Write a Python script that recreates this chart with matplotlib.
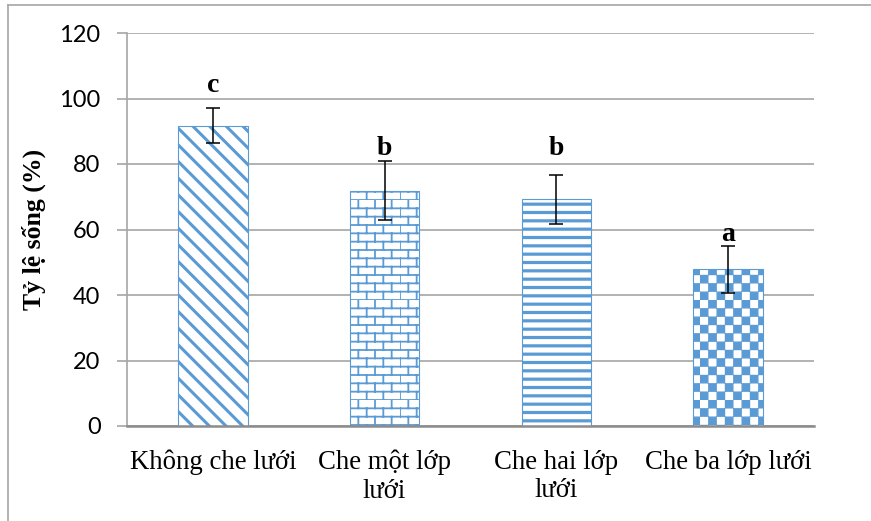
import warnings
import numpy as np
import matplotlib
matplotlib.use("Agg")
import matplotlib.pyplot as plt
import matplotlib.hatch as mhatch
from matplotlib.path import Path
from matplotlib.lines import Line2D

warnings.filterwarnings("ignore")

categories = ["Không che lưới", "Che một lớp\nlưới", "Che hai lớp\nlưới", "Che ba lớp lưới"]
survival = [91.7, 71.8, 69.2, 47.8]
errors = [5.3, 9.0, 7.4, 7.1]
letters = ["c", "b", "b", "a"]
letter_pos = [104.0, 84.8, 84.8, 58.5]
hatches = ["\\\\", "k", "--", "q"]

blue = "#5b9bd5"


class BrickHatch(mhatch.HatchPatternBase):
    """brick wall pattern, triggered by 'k'"""
    def __init__(self, hatch, density):
        self.rows = 12 if "k" in hatch else 0
        self.cols = 6
        # per row: one horizontal line + cols vertical segments
        self.num_vertices = self.rows * (2 + 2 * self.cols)

    def set_vertices_and_codes(self, vertices, codes):
        h = 1.0 / self.rows
        w = 1.0 / self.cols
        i = 0
        for r in range(self.rows):
            y0 = r * h
            vertices[i] = (0, y0); codes[i] = Path.MOVETO
            vertices[i + 1] = (1, y0); codes[i + 1] = Path.LINETO
            i += 2
            shift = 0 if r % 2 == 0 else w / 2
            for c in range(self.cols):
                x = c * w + shift
                vertices[i] = (x, y0); codes[i] = Path.MOVETO
                vertices[i + 1] = (x, y0 + h); codes[i + 1] = Path.LINETO
                i += 2


class CheckerHatch(mhatch.HatchPatternBase):
    """filled checkerboard squares, triggered by 'q'"""
    def __init__(self, hatch, density):
        self.n = 12 if "q" in hatch else 0
        self.cells = [(r, c) for r in range(self.n) for c in range(self.n) if (r + c) % 2 == 0]
        self.num_vertices = len(self.cells) * 5

    def set_vertices_and_codes(self, vertices, codes):
        s = 1.0 / self.n
        d = s * 0.06
        i = 0
        for r, c in self.cells:
            x0, y0 = c * s + d, r * s + d
            x1, y1 = (c + 1) * s - d, (r + 1) * s - d
            vertices[i:i + 5] = [(x0, y0), (x1, y0), (x1, y1), (x0, y1), (x0, y0)]
            codes[i:i + 5] = [Path.MOVETO, Path.LINETO, Path.LINETO, Path.LINETO, Path.CLOSEPOLY]
            i += 5


mhatch._hatch_types.append(BrickHatch)
mhatch._hatch_types.append(CheckerHatch)

hatch_widths = [2.2, 1.3, 2.3, 1.0]

fig = plt.figure(figsize=(8.71, 5.21), dpi=100)
ax = fig.add_axes([127 / 871, 1 - 426 / 521, (814 - 127) / 871, (426 - 33) / 521])

x = np.arange(len(categories))
for i in range(len(categories)):
    plt.rcParams["hatch.linewidth"] = hatch_widths[i]
    b = ax.bar(x[i], survival[i], width=0.405, color="white", edgecolor=blue,
               linewidth=0.8, hatch=hatches[i], zorder=2)
    for p in b:
        if hasattr(p, "set_hatch_linewidth"):
            p.set_hatch_linewidth(hatch_widths[i])

ax.errorbar(x, survival, yerr=errors, fmt="none", ecolor="black", elinewidth=1.1,
            capsize=4.7, capthick=1.1, zorder=3)

for i in range(len(categories)):
    ax.text(x[i], letter_pos[i], letters[i], ha="center", va="center",
            fontsize=20, fontweight="bold", family="Liberation Serif")

ax.set_xlim(-0.5, 3.5)
ax.set_ylim(0, 120)
ax.set_yticks(np.arange(0, 121, 20))
ax.yaxis.grid(True, color="#a6a6a6", linewidth=1.2, zorder=0)
ax.set_axisbelow(True)

for s in ["top", "right"]:
    ax.spines[s].set_visible(False)
ax.spines["left"].set_color("#a6a6a6")
ax.spines["left"].set_linewidth(1.2)
ax.spines["bottom"].set_color("#8c8c8c")
ax.spines["bottom"].set_linewidth(1.8)

ax.tick_params(axis="y", length=7, width=1.2, color="#a6a6a6", pad=12, labelsize=17)
ax.tick_params(axis="x", length=0, pad=17)
for lab in ax.get_yticklabels():
    lab.set_family("Lato")
ax.set_xticks(x)
ax.set_xticklabels(categories, family="Liberation Serif", fontsize=19.3, linespacing=1.18)

ax.set_ylabel("Tỷ lệ sống (%)", family="Liberation Serif", fontsize=18.5,
              fontweight="bold")
ax.yaxis.set_label_coords(-0.118, 0.5)

# outer frame (only top and left visible in reference)
fig.add_artist(Line2D([8 / 871, 1], [1 - 5 / 521, 1 - 5 / 521], color="#a6a6a6", linewidth=1.2,
                      transform=fig.transFigure))
fig.add_artist(Line2D([8 / 871, 8 / 871], [0, 1 - 5 / 521], color="#a6a6a6", linewidth=1.2,
                      transform=fig.transFigure))

fig.savefig("out.png", dpi=100)
